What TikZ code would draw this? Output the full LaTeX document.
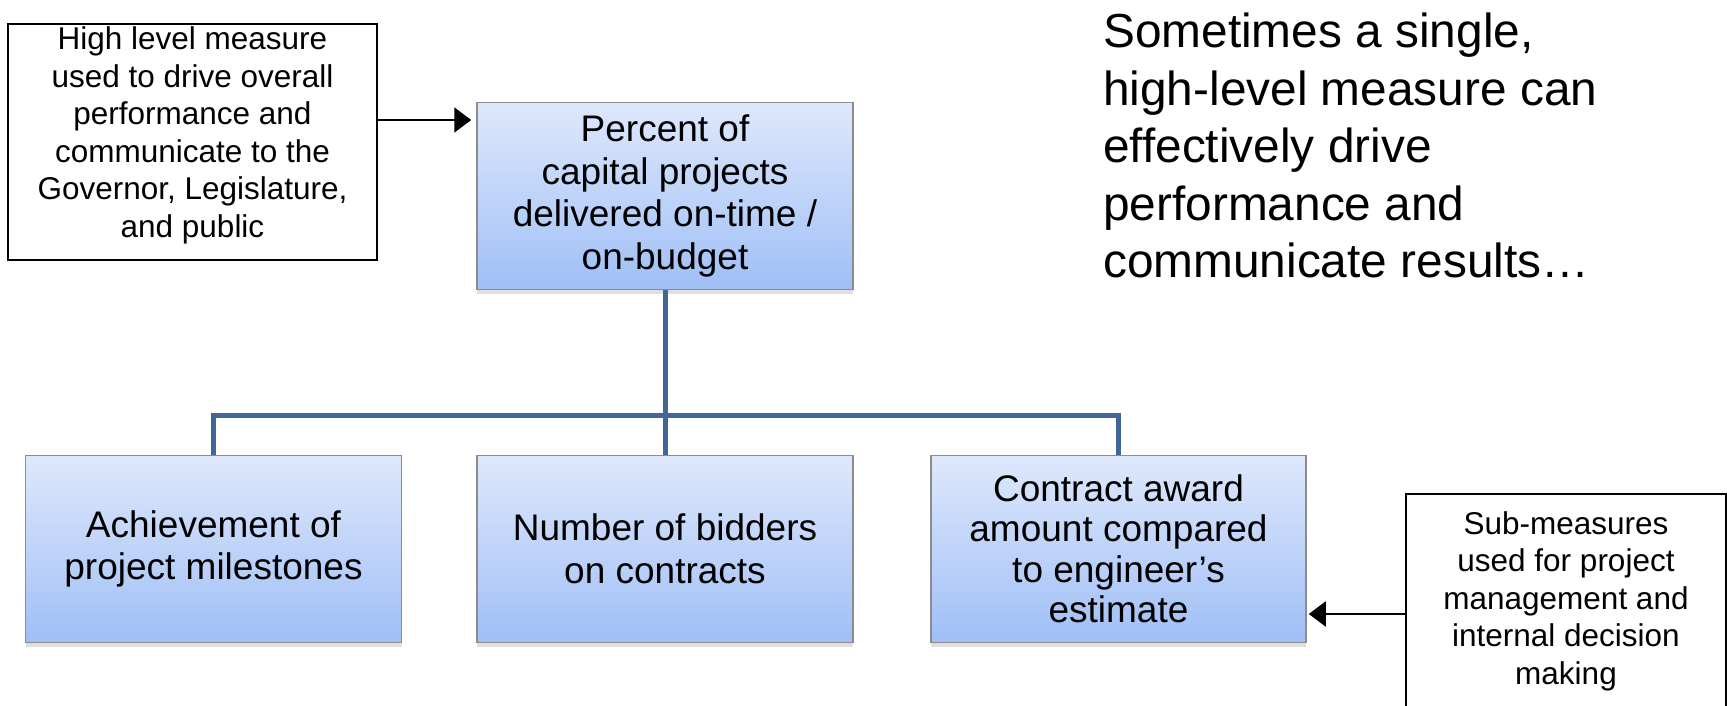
\documentclass[tikz,border=0pt]{standalone}
\usepackage{fontspec}
\setmainfont{Liberation Sans}
\usetikzlibrary{arrows.meta,shadows,calc}
\definecolor{boxtop}{RGB}{222,232,252}
\definecolor{boxbot}{RGB}{160,191,246}
\definecolor{boxedge}{RGB}{140,140,140}
\definecolor{linkblue}{RGB}{65,103,154}
\begin{document}
\begin{tikzpicture}[x=1pt,y=-1pt,
  measure/.style={draw=boxedge, line width=1.5pt, top color=boxtop, bottom color=boxbot,
    minimum width=376pt, minimum height=187pt, inner sep=0pt, align=center,
    font=\fontsize{37}{42.7}\selectfont,
    drop shadow={shadow xshift=0pt, shadow yshift=-4pt, opacity=0.25}},
  callout/.style={draw=black, line width=2pt, fill=white, inner sep=0pt, align=center,
    font=\fontsize{31.5}{37.5}\selectfont},
  link/.style={draw=linkblue, line width=5pt},
  pointer/.style={draw=black, line width=2pt, -{Triangle[length=17pt,width=25pt]}}]
\useasboundingbox (0,0) rectangle (1727,706);
\clip (0,0) rectangle (1727,706);
\fill[white] (0,0) rectangle (1727,706);

\coordinate (bus) at (665,415);

\node[measure] (top) at (665,196) {Percent of\\capital projects\\delivered on-time /\\on-budget};
\node[measure] (left) at (213.5,549) {Achievement of\\project milestones};
\node[measure] (mid) at (665,549) {Number of bidders\\on contracts};
\node[measure, minimum width=375pt, font=\fontsize{37}{40.5}\selectfont] (right) at (1118.5,549) {Contract award\\amount compared\\to engineer’s\\estimate};

\draw[link] (top.south) -- (mid.north);
\draw[link] (left.north) -- (left.north |- bus) -- (right.north |- bus) -- (right.north);

\node[callout, minimum width=369pt, minimum height=236pt] (high) at (192.5,142)
  {High level measure\\used to drive overall\\performance and\\communicate to the\\Governor, Legislature,\\and public\rule[-20pt]{0pt}{0pt}};
\node[callout, minimum width=320pt, minimum height=214pt] (sub) at (1566,601)
  {Sub-measures\\used for project\\management and\\internal decision\\making};

\node[anchor=west, inner sep=0pt, align=left, font=\fontsize{47.8}{57.5}\selectfont] (note) at (1103,145.5)
  {Sometimes a single,\\high-level measure can\\effectively drive\\performance and\\communicate results…};

\draw[pointer] ($(high.east)+(0,-22)$) -- ($(high.east -| top.west)+(-5,-22)$);
\draw[pointer] ($(sub.west)+(0,13)$) -- ($(sub.west -| right.east)+(2,13)$);
\end{tikzpicture}
\end{document}
